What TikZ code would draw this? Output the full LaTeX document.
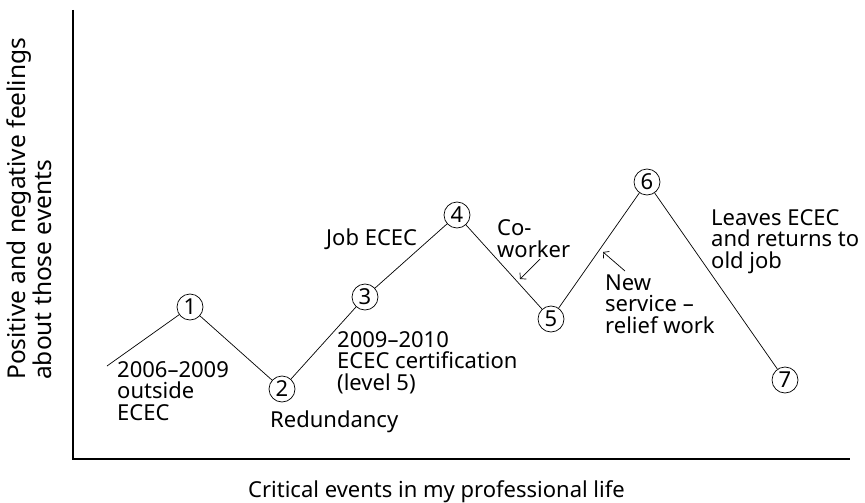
\documentclass[tikz,border=0pt]{standalone}
\usepackage{fontspec}
\setmainfont{Noto Sans}
\usetikzlibrary{arrows.meta}

\begin{document}
\begin{tikzpicture}[x=1pt, y=-1pt, every node/.style={font=\fontsize{22}{21.5}\selectfont}]
%
% Skiss: lifeline with seven critical events, axes at left and bottom
%
% Styles
\tikzstyle{event} = [circle, draw=black, line width=0.7pt, minimum size=26pt, inner sep=0pt, fill=white]
\tikzstyle{label} = [anchor=base west, align=left, inner sep=0pt]
\tikzstyle{axis} = [line width=2.2pt]
\tikzstyle{line} = [line width=0.7pt]
\tikzstyle{arrow} = [line width=0.7pt,->,>={Straight Barb[length=4pt,width=9pt]}]
\useasboundingbox (0,0) rectangle (865,503);
% Axes
\coordinate (ytop) at (73,10);
\coordinate (origin) at (73,459);
\coordinate (xend) at (850,459);
\draw [axis] (ytop) -- (origin) -- (xend);
\node (ylabel) [rotate=90, anchor=north west, align=left, inner sep=0pt, font=\fontsize{24.5}{25.5}\selectfont] at (7,380) {Positive and negative feelings\\about those events};
\node (xlabel) [label] at (248,497) {Critical events in my professional life};
% Nodes
\coordinate (start) at (107,366);
\node (e1) [event] at (190,307) {1};
\node (e2) [event] at (282,389) {2};
\node (e3) [event] at (365,297) {3};
\node (e4) [event] at (457,215) {4};
\node (e5) [event] at (551,319) {5};
\node (e6) [event] at (647,182) {6};
\node (e7) [event] at (785,380) {7};
% Labels (placed at baseline of last line)
\node (outside) [label] at (117,420) {2006–2009\\outside\\ECEC};
\node (redundancy) [label] at (270,427) {Redundancy};
\node (certification) [label] at (337,390) {2009–2010\\ECEC certification\\(level 5)};
\node (jobecec) [label] at (326,245) {Job ECEC};
\node (coworker) [label] at (497,257) {Co-\\worker};
\node (newservice) [label] at (605,333) {New\\service –\\relief work};
\node (leaves) [label] at (711,268) {Leaves ECEC\\and returns to\\old job};
% Lines
\draw [line] (start) -- (e1);
\draw [line] (e1) -- (e2);
\draw [line] (e2) -- (e3);
\draw [line] (e3) -- (e4);
\draw [line] (e4) -- (e5);
\draw [line] (e5) -- (e6);
\draw [line] (e6) -- (e7);
% Arrows
\coordinate (cwtail) at (540,259);
\coordinate (cwhead) at (520,279);
\coordinate (nstail) at (625,271);
\coordinate (nshead) at (603,252);
\draw [arrow] (cwtail) -- (cwhead);
\draw [arrow] (nstail) -- (nshead);
\end{tikzpicture}
\end{document}
